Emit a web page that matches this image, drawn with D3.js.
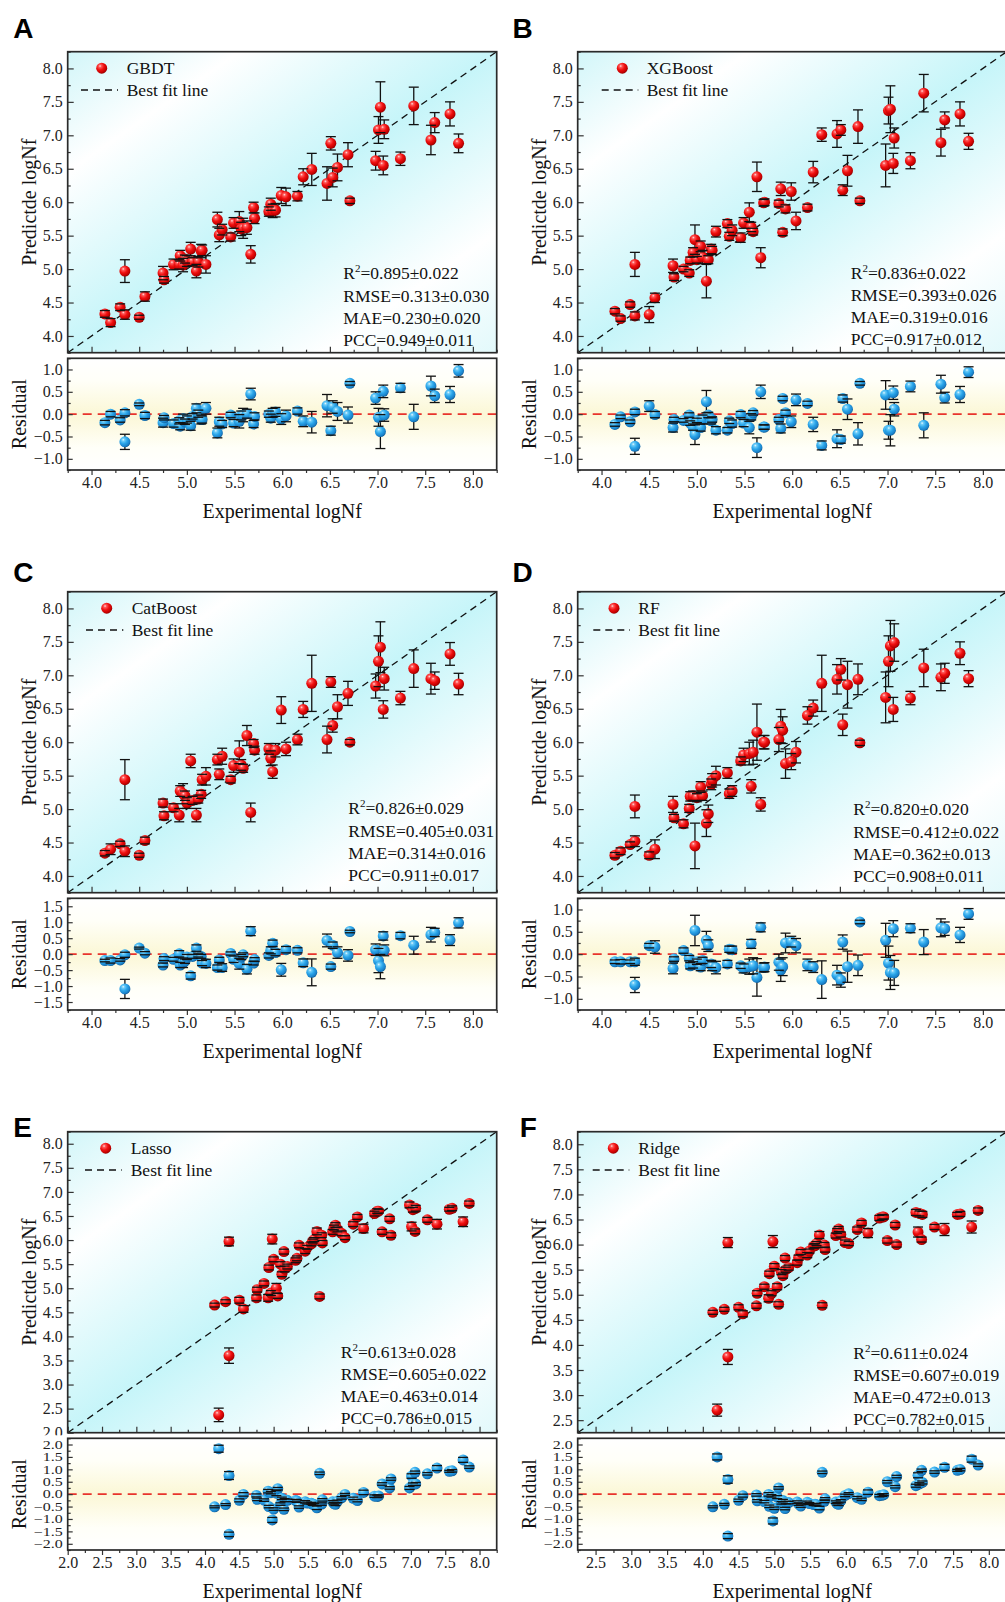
<!DOCTYPE html>
<html>
<head>
<meta charset="utf-8">
<script src="https://cdn.jsdelivr.net/npm/d3@7"></script>
<style>
  body { margin: 0; background: #fff; }
  svg { display: block; }
  .tick text { font-family: "Liberation Serif", "Times New Roman", serif; font-size: 16px; fill: #222; }
  .tick line { stroke: #333; stroke-width: 1.2; }
</style>
</head>
<body>
<svg id="chart" width="1005" height="1602"></svg>
<script>
// Experimental fatigue life (log Nf) of the test samples, shared by every model
const experimental = [4.14,4.20,4.30,4.35,4.35,4.50,4.56,4.75,4.76,4.86,4.92,4.93,4.96,4.98,5.00,5.04,5.06,5.10,5.12,5.15,5.16,5.20,5.32,5.34,5.37,5.46,5.49,5.55,5.57,5.59,5.63,5.67,5.70,5.71,5.86,5.88,5.90,5.93,5.99,6.04,6.16,6.22,6.31,6.47,6.51,6.53,6.58,6.69,6.71,6.98,7.01,7.03,7.06,7.07,7.24,7.38,7.56,7.60,7.76,7.85];

// Mean predictions and their standard deviations over repeated runs
const gbdtPred = [4.33,4.20,4.43,4.32,4.97,4.28,4.59,4.94,4.84,5.07,5.07,5.20,5.06,5.15,5.12,5.30,5.11,4.97,5.11,5.27,5.28,5.07,5.74,5.51,5.59,5.48,5.69,5.71,5.60,5.61,5.62,5.22,5.92,5.76,5.86,5.97,5.87,5.88,6.10,6.08,6.09,6.38,6.49,6.28,6.88,6.37,6.52,6.71,6.02,6.62,7.08,7.42,6.55,7.09,6.65,7.44,6.93,7.19,7.32,6.88];
const gbdtErr = [0.05,0.06,0.05,0.07,0.17,0.03,0.07,0.10,0.05,0.08,0.07,0.08,0.10,0.06,0.08,0.10,0.06,0.10,0.08,0.10,0.08,0.13,0.11,0.10,0.08,0.06,0.08,0.15,0.10,0.15,0.10,0.13,0.08,0.08,0.07,0.09,0.10,0.10,0.12,0.13,0.07,0.12,0.24,0.25,0.10,0.14,0.20,0.18,0.04,0.14,0.20,0.38,0.14,0.14,0.10,0.28,0.22,0.15,0.18,0.14];

const xgbPred = [4.37,4.26,4.47,4.30,5.07,4.32,4.57,5.05,4.88,5.00,4.94,5.13,5.25,5.44,5.14,5.34,5.18,4.82,5.14,5.30,5.28,5.56,5.68,5.49,5.58,5.47,5.69,5.85,5.63,5.56,6.38,5.17,5.99,6.00,5.98,6.20,5.55,5.90,6.16,5.72,5.92,6.45,7.01,7.02,7.08,6.18,6.47,7.13,6.02,6.55,7.37,7.39,6.58,6.96,6.62,7.63,6.89,7.23,7.32,6.91];
const xgbErr = [0.04,0.04,0.04,0.06,0.18,0.12,0.07,0.10,0.05,0.04,0.05,0.05,0.07,0.22,0.05,0.08,0.10,0.25,0.06,0.07,0.06,0.08,0.06,0.06,0.08,0.07,0.08,0.14,0.07,0.05,0.22,0.15,0.05,0.05,0.05,0.10,0.05,0.06,0.13,0.13,0.05,0.16,0.10,0.20,0.08,0.08,0.23,0.25,0.04,0.32,0.20,0.35,0.15,0.15,0.12,0.28,0.20,0.12,0.18,0.12];

const catPred = [4.34,4.40,4.48,4.37,5.44,4.31,4.53,5.09,4.90,5.02,4.91,5.27,5.23,5.20,5.09,5.72,5.13,4.91,5.15,5.22,5.44,5.49,5.74,5.52,5.79,5.44,5.65,5.85,5.66,5.61,6.10,4.95,5.98,5.88,5.90,5.76,5.56,5.88,6.48,5.90,6.04,6.49,6.88,6.04,6.90,6.25,6.53,6.73,6.00,6.84,7.21,7.42,6.49,6.95,6.66,7.10,6.95,6.92,7.32,6.87];
const catErr = [0.04,0.08,0.04,0.08,0.30,0.03,0.05,0.06,0.06,0.06,0.10,0.08,0.15,0.07,0.08,0.10,0.06,0.10,0.06,0.06,0.08,0.13,0.08,0.08,0.12,0.05,0.10,0.17,0.08,0.06,0.15,0.14,0.06,0.06,0.08,0.11,0.10,0.10,0.20,0.10,0.08,0.12,0.42,0.20,0.08,0.10,0.18,0.18,0.04,0.18,0.38,0.38,0.13,0.17,0.10,0.28,0.23,0.13,0.17,0.16];

const rfPred = [4.31,4.37,4.47,4.52,5.04,4.31,4.40,5.07,4.87,4.78,5.01,5.19,5.20,4.45,5.17,5.33,5.20,4.79,4.93,5.37,5.43,5.50,5.54,5.23,5.27,5.72,5.81,5.83,5.34,5.85,6.15,5.07,6.00,6.00,6.04,6.24,6.18,5.68,5.71,5.85,6.40,6.51,6.88,6.94,7.09,6.26,6.86,6.94,5.99,6.67,7.21,7.44,6.49,7.49,6.66,7.11,6.97,7.03,7.33,6.95];
const rfErr = [0.04,0.05,0.04,0.08,0.17,0.05,0.14,0.12,0.05,0.06,0.06,0.07,0.07,0.34,0.06,0.08,0.07,0.20,0.13,0.08,0.10,0.14,0.08,0.07,0.08,0.06,0.10,0.17,0.10,0.18,0.42,0.10,0.10,0.10,0.18,0.25,0.20,0.22,0.12,0.16,0.13,0.12,0.42,0.22,0.16,0.16,0.35,0.23,0.04,0.38,0.38,0.38,0.18,0.28,0.10,0.28,0.20,0.15,0.17,0.12];

const lassoPred = [4.65,2.37,4.72,3.60,5.97,4.75,4.57,4.80,4.97,5.10,4.80,5.43,4.90,6.02,5.60,5.00,4.84,5.50,5.29,5.76,5.40,5.45,5.58,5.62,5.89,5.77,5.85,5.92,5.98,6.01,6.18,4.83,6.10,5.94,6.17,6.26,6.31,6.22,6.14,6.05,6.33,6.48,6.24,6.55,6.60,6.60,6.17,6.44,6.10,6.73,6.28,6.63,6.18,6.66,6.42,6.33,6.64,6.66,6.38,6.76];
const lassoErr = [0.04,0.14,0.04,0.16,0.09,0.06,0.07,0.06,0.05,0.05,0.07,0.05,0.05,0.10,0.05,0.10,0.05,0.05,0.05,0.05,0.06,0.05,0.05,0.05,0.05,0.05,0.04,0.04,0.04,0.04,0.07,0.05,0.05,0.05,0.05,0.05,0.05,0.05,0.05,0.04,0.05,0.05,0.09,0.05,0.05,0.04,0.05,0.05,0.05,0.06,0.09,0.05,0.05,0.06,0.05,0.10,0.04,0.05,0.10,0.05];

const ridgePred = [4.65,2.70,4.71,3.76,6.04,4.75,4.62,4.78,5.03,5.16,4.93,5.42,5.03,6.06,5.57,5.16,4.81,5.45,5.38,5.73,5.50,5.54,5.64,5.74,5.85,5.79,5.87,5.97,5.98,6.02,6.19,4.79,5.99,5.90,6.18,6.27,6.31,6.20,6.04,6.02,6.30,6.43,6.23,6.53,6.55,6.55,6.08,6.39,6.00,6.64,6.25,6.62,6.10,6.60,6.35,6.30,6.60,6.61,6.35,6.68];
const ridgeErr = [0.04,0.12,0.04,0.15,0.10,0.05,0.06,0.05,0.05,0.05,0.07,0.05,0.05,0.12,0.05,0.06,0.05,0.05,0.05,0.05,0.05,0.05,0.05,0.05,0.05,0.05,0.04,0.04,0.04,0.04,0.07,0.05,0.05,0.05,0.05,0.05,0.05,0.05,0.05,0.04,0.05,0.05,0.09,0.05,0.05,0.04,0.05,0.05,0.05,0.06,0.10,0.05,0.05,0.06,0.05,0.12,0.04,0.05,0.12,0.05];

// Model names, panel letters and metric strings
const modelNames = ["GBDT", "XGBoost", "CatBoost", "RF", "Lasso", "Ridge"];
const panelLetters = ["A", "B", "C", "D", "E", "F"];
const statR2   = ["0.895±0.022", "0.836±0.022", "0.826±0.029", "0.820±0.020", "0.613±0.028", "0.611±0.024"];
const statRMSE = ["0.313±0.030", "0.393±0.026", "0.405±0.031", "0.412±0.022", "0.605±0.022", "0.607±0.019"];
const statMAE  = ["0.230±0.020", "0.319±0.016", "0.314±0.016", "0.362±0.013", "0.463±0.014", "0.472±0.013"];
const statPCC  = ["0.949±0.011", "0.917±0.012", "0.911±0.017", "0.908±0.011", "0.786±0.015", "0.782±0.015"];

// Tick labels
const ticksMainAD = [4.0,4.5,5.0,5.5,6.0,6.5,7.0,7.5,8.0];
const ticksMainE  = [2.0,2.5,3.0,3.5,4.0,4.5,5.0,5.5,6.0,6.5,7.0,7.5,8.0];
const ticksMainF  = [2.5,3.0,3.5,4.0,4.5,5.0,5.5,6.0,6.5,7.0,7.5,8.0];
const ticksRes1   = [-1.0,-0.5,0.0,0.5,1.0];
const ticksRes15  = [-1.5,-1.0,-0.5,0.0,0.5,1.0,1.5];
const ticksRes2   = [-2.0,-1.5,-1.0,-0.5,0.0,0.5,1.0,1.5,2.0];

const predictions = [gbdtPred, xgbPred, catPred, rfPred, lassoPred, ridgePred];
const errors = [gbdtErr, xgbErr, catErr, rfErr, lassoErr, ridgeErr];

// ---- layout ----
const colBox = [{ left: 67.7, right: 496.7 }, { left: 577.7, right: 1006.7 }];
const rowOffset = [0, 540, 1080];
const axisCfg = [
  { dom: [3.75, 8.25], ticks: ticksMainAD, res: [-1.25, 1.25], resTicks: ticksRes1, squeeze: 1 },
  { dom: [3.75, 8.25], ticks: ticksMainAD, res: [-1.25, 1.25], resTicks: ticksRes1, squeeze: 1 },
  { dom: [3.75, 8.25], ticks: ticksMainAD, res: [-1.75, 1.75], resTicks: ticksRes15, squeeze: 1 },
  { dom: [3.75, 8.25], ticks: ticksMainAD, res: [-1.25, 1.25], resTicks: ticksRes1, squeeze: 1 },
  { dom: [2.0, 8.25],  ticks: ticksMainE,  res: [-2.25, 2.25], resTicks: ticksRes2, squeeze: 0.72 },
  { dom: [2.25, 8.25], ticks: ticksMainF,  res: [-2.25, 2.25], resTicks: ticksRes2, squeeze: 0.72 }
];
// legend: symbol x, dash start/end, text x (relative to frame left)
const legendPos = [
  { sym: 34, d0: 13.3, d1: 50.3, tx: 59 },
  { sym: 44.6, d0: 24, d1: 60.6, tx: 69 },
  { sym: 39, d0: 18.3, d1: 55.6, tx: 64 },
  { sym: 36.3, d0: 15.6, d1: 52.3, tx: 60.6 },
  { sym: 38, d0: 17.3, d1: 54, tx: 63 },
  { sym: 35.6, d0: 15, d1: 51.6, tx: 60.6 }
];
// metrics block: x relative to frame left, first line centre relative to frame bottom
const statPos = [
  { x: 275.6, y: -79.4 }, { x: 273, y: -80 }, { x: 280.6, y: -84.4 },
  { x: 275.6, y: -83.4 }, { x: 273, y: -81 }, { x: 275.6, y: -80 }
];
const letterPos = [[23.3, 28.3], [522.7, 28.3], [23.3, 571.7], [522.7, 571.7], [22.7, 1126.7], [528.3, 1126.7]];

const SERIF = '"Liberation Serif", "Times New Roman", serif';
const svg = d3.select("#chart");
const defs = svg.append("defs");

// diagonal cyan wash behind the parity plots
const gMain = defs.append("linearGradient").attr("id", "bgMain")
  .attr("x1", 0).attr("y1", 0).attr("x2", 1).attr("y2", 1);
[[0, "#d2f6f9"], [0.2, "#ffffff"], [0.5, "#c6f5f9"], [0.8, "#ffffff"], [1, "#e2f9fb"]]
  .forEach(([o, c]) => gMain.append("stop").attr("offset", o).attr("stop-color", c));

// pale yellow band behind the residual plots
const gRes = defs.append("linearGradient").attr("id", "bgRes")
  .attr("x1", 0).attr("y1", 0).attr("x2", 0).attr("y2", 1);
[[0, "#ffffff"], [0.2, "#fffff8"], [0.5, "#fbf7d6"], [0.8, "#fffff8"], [1, "#ffffff"]]
  .forEach(([o, c]) => gRes.append("stop").attr("offset", o).attr("stop-color", c));

// shaded balls
function ball(id, stops) {
  const g = defs.append("radialGradient").attr("id", id)
    .attr("cx", "38%").attr("cy", "35%").attr("r", "68%").attr("fx", "35%").attr("fy", "30%");
  stops.forEach(([o, c]) => g.append("stop").attr("offset", o).attr("stop-color", c));
}
ball("redBall", [[0, "#ffe2e2"], [0.18, "#ff5a5a"], [0.5, "#f01010"], [0.85, "#c00000"], [1, "#8a0000"]]);
ball("blueBall", [[0, "#eaf8ff"], [0.18, "#6fcdf8"], [0.5, "#2ba6ea"], [0.85, "#1a80c8"], [1, "#0e5a92"]]);

const R = 5.5, CAP = 5;

function drawMarks(g, xs, ys, errs, sx, sy, fill) {
  const data = xs.map((x, i) => ({ x: sx(x), y: sy(ys[i]), lo: sy(ys[i] - errs[i]), hi: sy(ys[i] + errs[i]) }));
  g.append("g").selectAll("line").data(data).join("line")
    .attr("x1", d => d.x).attr("x2", d => d.x).attr("y1", d => d.lo).attr("y2", d => d.hi)
    .attr("stroke", "#111").attr("stroke-width", 1.3);
  g.append("g").selectAll("circle").data(data).join("circle")
    .attr("cx", d => d.x).attr("cy", d => d.y).attr("r", R).attr("fill", `url(#${fill})`);
  const caps = g.append("g").attr("stroke", "#111").attr("stroke-width", 1.3);
  caps.selectAll("line.top").data(data).join("line").attr("class", "top")
    .attr("x1", d => d.x - CAP).attr("x2", d => d.x + CAP).attr("y1", d => d.hi).attr("y2", d => d.hi);
  caps.selectAll("line.bot").data(data).join("line").attr("class", "bot")
    .attr("x1", d => d.x - CAP).attr("x2", d => d.x + CAP).attr("y1", d => d.lo).attr("y2", d => d.lo);
}

function minorTicks(dom) {
  const out = [];
  for (let v = Math.ceil(dom[0] * 4) / 4; v <= dom[1] + 1e-9; v += 0.25) {
    if (Math.abs(v * 2 - Math.round(v * 2)) > 1e-6) out.push(+v.toFixed(2));
  }
  return out;
}

function axis(g, gen, at) {
  const a = g.append("g").attr("transform", at).call(gen);
  a.select(".domain").remove();
  return a;
}

modelNames.forEach((name, k) => {
  const col = k % 2, row = Math.floor(k / 2);
  const L = colBox[col].left, Rt = colBox[col].right, oy = rowOffset[row];
  const mT = 51.7 + oy, mB = 352.7 + oy, rT = 358.3 + oy, rB = 470 + oy;
  const cfg = axisCfg[k];
  const pred = predictions[k], err = errors[k];
  const resid = experimental.map((e, i) => e - pred[i]);

  const x = d3.scaleLinear().domain(cfg.dom).range([L, Rt]);
  const y = d3.scaleLinear().domain(cfg.dom).range([mB, mT]);
  const yr = d3.scaleLinear().domain(cfg.res).range([rB, rT]);
  const fmt = d3.format(".1f");
  const minor = minorTicks(cfg.dom);
  const minorR = minorTicks(cfg.res);

  const g = svg.append("g");

  // ---------- parity plot ----------
  g.append("rect").attr("x", L).attr("y", mT).attr("width", Rt - L).attr("height", mB - mT)
    .attr("fill", "url(#bgMain)");
  g.append("line")
    .attr("x1", x(cfg.dom[0])).attr("y1", y(cfg.dom[0]))
    .attr("x2", x(cfg.dom[1])).attr("y2", y(cfg.dom[1]))
    .attr("stroke", "#111").attr("stroke-width", 1.3).attr("stroke-dasharray", "7,5");

  axis(g, d3.axisBottom(x).tickValues(cfg.ticks).tickSize(-6).tickFormat(""), `translate(0,${mB})`);
  axis(g, d3.axisBottom(x).tickValues(minor).tickSize(-3).tickFormat(""), `translate(0,${mB})`);
  axis(g, d3.axisLeft(y).tickValues(cfg.ticks).tickSize(-6).tickPadding(5).tickFormat(fmt), `translate(${L},0)`);
  axis(g, d3.axisLeft(y).tickValues(minor).tickSize(-3).tickFormat(""), `translate(${L},0)`);

  drawMarks(g, experimental, pred, err, x, y, "redBall");

  g.append("rect").attr("x", L).attr("y", mT).attr("width", Rt - L).attr("height", mB - mT)
    .attr("fill", "none").attr("stroke", "#2a2a2a").attr("stroke-width", 1.7);

  // legend
  const lp = legendPos[k];
  g.append("circle").attr("cx", L + lp.sym).attr("cy", mT + 16.5).attr("r", R).attr("fill", "url(#redBall)");
  g.append("text").attr("x", L + lp.tx).attr("y", mT + 16.5 + 6)
    .attr("font-family", SERIF).attr("font-size", 17.5).attr("fill", "#111").text(name);
  g.append("line").attr("x1", L + lp.d0).attr("x2", L + lp.d1).attr("y1", mT + 38.3).attr("y2", mT + 38.3)
    .attr("stroke", "#111").attr("stroke-width", 1.3).attr("stroke-dasharray", "7,5");
  g.append("text").attr("x", L + lp.tx).attr("y", mT + 38.3 + 6)
    .attr("font-family", SERIF).attr("font-size", 17.5).attr("fill", "#111").text("Best fit line");

  // metrics
  const sp = statPos[k];
  const st = g.append("g").attr("font-family", SERIF).attr("font-size", 17.5).attr("fill", "#111");
  const r2 = st.append("text").attr("x", L + sp.x).attr("y", mB + sp.y + 6);
  r2.append("tspan").text("R");
  r2.append("tspan").attr("dy", -7).attr("font-size", 11).text("2");
  r2.append("tspan").attr("dy", 7).text("=" + statR2[k]);
  [["RMSE=", statRMSE[k]], ["MAE=", statMAE[k]], ["PCC=", statPCC[k]]].forEach(([lab, v], j) => {
    st.append("text").attr("x", L + sp.x).attr("y", mB + sp.y + 6 + 22.2 * (j + 1)).text(lab + v);
  });

  // axis title
  g.append("text").attr("transform", `translate(${L - 32},${(mT + mB) / 2}) rotate(-90)`)
    .attr("text-anchor", "middle").attr("font-family", SERIF).attr("font-size", 20).attr("fill", "#111")
    .text("Predictde logNf");

  // ---------- residual plot ----------
  // the residual layer sits on top of the parity layer's margin
  g.append("rect").attr("x", L - 45).attr("y", rT - 3).attr("width", 45).attr("height", rB - rT + 3)
    .attr("fill", "#fff");
  g.append("rect").attr("x", L).attr("y", rT).attr("width", Rt - L).attr("height", rB - rT)
    .attr("fill", "url(#bgRes)");
  g.append("line").attr("x1", L).attr("x2", Rt).attr("y1", yr(0)).attr("y2", yr(0))
    .attr("stroke", "#e8332c").attr("stroke-width", 1.8).attr("stroke-dasharray", "9,6");

  axis(g, d3.axisBottom(x).tickValues(cfg.ticks).tickSize(5).tickPadding(2).tickFormat(fmt), `translate(0,${rB})`);
  axis(g, d3.axisBottom(x).tickValues(minor).tickSize(3).tickFormat(""), `translate(0,${rB})`);
  const ra = axis(g, d3.axisLeft(yr).tickValues(cfg.resTicks).tickSize(-5).tickPadding(5).tickFormat(fmt), `translate(${L},0)`);
  if (cfg.squeeze !== 1) ra.selectAll(".tick text").attr("transform", `scale(1,${cfg.squeeze})`);
  axis(g, d3.axisLeft(yr).tickValues(minorR).tickSize(-3).tickFormat(""), `translate(${L},0)`);

  drawMarks(g, experimental, resid, err, x, yr, "blueBall");

  g.append("rect").attr("x", L).attr("y", rT).attr("width", Rt - L).attr("height", rB - rT)
    .attr("fill", "none").attr("stroke", "#2a2a2a").attr("stroke-width", 1.7);

  g.append("text").attr("transform", `translate(${L - 42},${(rT + rB) / 2}) rotate(-90)`)
    .attr("text-anchor", "middle").attr("font-family", SERIF).attr("font-size", 20).attr("fill", "#111")
    .text("Residual");
  g.append("text").attr("x", (L + Rt) / 2).attr("y", rB + 48)
    .attr("text-anchor", "middle").attr("font-family", SERIF).attr("font-size", 20).attr("fill", "#111")
    .text("Experimental logNf");

  // panel letter
  svg.append("text").attr("x", letterPos[k][0]).attr("y", letterPos[k][1] + 10)
    .attr("text-anchor", "middle").attr("font-family", '"Liberation Sans", Arial, sans-serif')
    .attr("font-weight", "bold").attr("font-size", 28).attr("fill", "#000").text(panelLetters[k]);
});
</script>
</body>
</html>
